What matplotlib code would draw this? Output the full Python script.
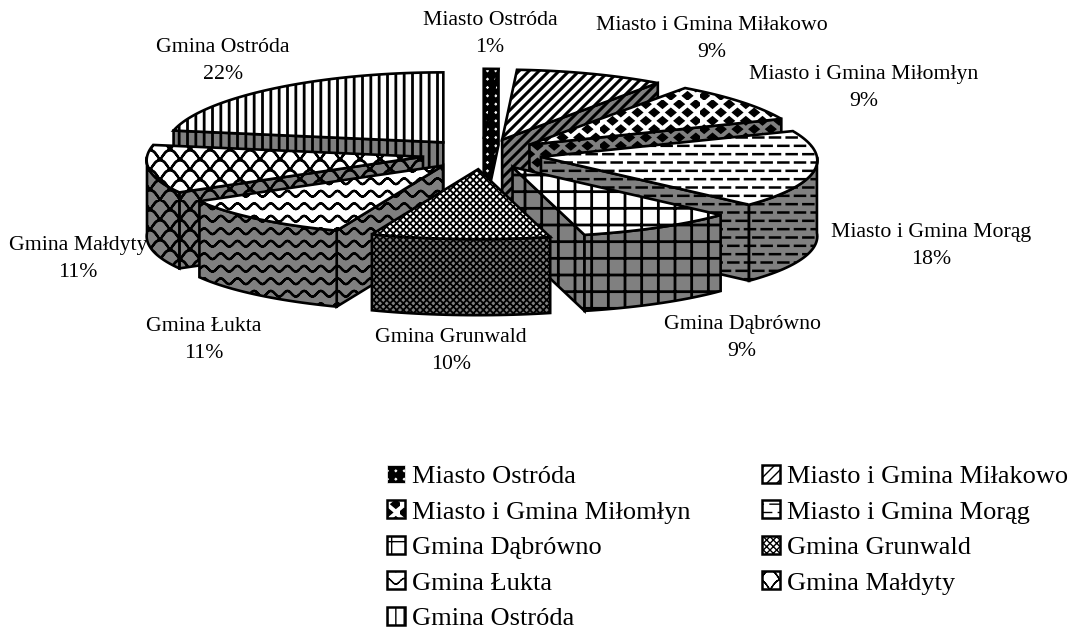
import warnings

import numpy as np
import matplotlib
matplotlib.use("Agg")
import matplotlib.pyplot as plt
import matplotlib.hatch as mhatch
from matplotlib.patches import Polygon, Rectangle
from matplotlib.path import Path

warnings.filterwarnings("ignore")

nazwy = ["Miasto Ostróda", "Miasto i Gmina Miłakowo", "Miasto i Gmina Miłomłyn",
         "Miasto i Gmina Morąg", "Gmina Dąbrówno", "Gmina Grunwald",
         "Gmina Łukta", "Gmina Małdyty", "Gmina Ostróda"]
udzial = [0.9, 9.1, 9, 18, 9, 10, 10.5, 11.2, 22.3]
procenty = ["1%", "9%", "9%", "18%", "9%", "10%", "11%", "11%", "22%"]

# srodki podpisow w pikselach obrazka
etykiety_x = [490, 712, 864, 931, 742, 451, 204, 78, 223]
etykiety_y = [34, 39, 88, 246, 338, 351, 340, 259, 61]

wzory = ["k", "f", "d", "m", "+", "xxxxx", "w", "s", "||"]
grubosc_wzoru = [1.0, 2.2, 1.0, 1.8, 2.0, 1.3, 1.6, 1.6, 2.0]

SRODEK_X, SRODEK_Y = 482, 154
RX, RY = 276, 70
PERSPEKTYWA = 0.05
WYSUNIECIE = 60
WYSOKOSC = 76
SZARY = "#808080"


def segmenty(linie):
    verts = []
    kody = []
    for (x0, y0), (x1, y1) in linie:
        verts += [(x0, y0), (x1, y1)]
        kody += [Path.MOVETO, Path.LINETO]
    return verts, kody


def krzywa(xs, ys):
    return list(zip(zip(xs[:-1], ys[:-1]), zip(xs[1:], ys[1:])))


def wzor_fala():
    linie = []
    xs = np.linspace(0, 1, 73)
    for r in range(8):
        linie += krzywa(xs, (r + 0.5) / 8 + 0.028 * np.sin(2 * np.pi * 6 * xs))
    return segmenty(linie)


def wzor_luski():
    linie = []
    xs = np.linspace(0, 1, 121)
    for r in range(10):
        faza = np.pi / 2 * (r % 2)
        linie += krzywa(xs, r / 10 + np.abs(np.sin(np.pi * 5 * xs + faza)) / 10)
    return segmenty(linie)


def wzor_ukos():
    kroki = np.linspace(-0.5, 0.5, 21)
    return segmenty([((0 + k, 0 - k), (1 + k, 1 - k)) for k in kroki])


def wzor_kreski():
    linie = []
    for r in range(12):
        y = (r + 0.5) / 12
        for c in range(7):
            x = c / 6 + (1 / 12 if r % 2 else 0)
            linie.append(((max(x - 0.05, 0), y), (min(x + 0.05, 1), y)))
    return segmenty([l for l in linie if l[0][0] < 1])


def romby(xy, dx, dy):
    verts = []
    kody = []
    for x, y in xy:
        verts += [(x - dx, y), (x, y + dy), (x + dx, y), (x, y - dy), (x - dx, y)]
        kody += [Path.MOVETO, Path.LINETO, Path.LINETO, Path.LINETO, Path.CLOSEPOLY]
    return verts, kody


def wzor_romby():
    xy = [((c + (0.75 if r % 2 else 0.25)) / 6, (r + 0.5) / 12) for r in range(12) for c in range(6)]
    return romby(xy, 0.05, 0.041)


def wzor_kropki():
    xy = [((c + 0.5) / 12, (r + 0.5) / 12) for r in range(12) for c in range(12)]
    return romby(xy, 0.007, 0.007)


WLASNE = {"w": wzor_fala(), "s": wzor_luski(), "f": wzor_ukos(), "m": wzor_kreski(),
          "d": wzor_romby(), "k": wzor_kropki()}


class WlasnyWzor(mhatch.HatchPatternBase):
    def __init__(self, hatch, density):
        self.verts = []
        self.kody = []
        for znak, (v, k) in WLASNE.items():
            if znak in hatch:
                self.verts += v
                self.kody += k
        self.num_vertices = len(self.verts)

    def set_vertices_and_codes(self, vertices, codes):
        vertices[:] = self.verts
        codes[:] = self.kody


mhatch._hatch_types.append(WlasnyWzor)

plt.rcParams["font.family"] = ["Liberation Serif", "DejaVu Serif"]
plt.rcParams["hatch.linewidth"] = 1.0

fig = plt.figure(figsize=(10.76, 6.29), dpi=100)
ax = fig.add_axes([0, 0, 1, 1])
ax.set_xlim(0, 1076)
ax.set_ylim(629, 0)
ax.axis("off")


def punkt(wierzch, kat):
    return (wierzch[0] + RX * np.sin(kat) * (1 - PERSPEKTYWA * np.cos(kat)), wierzch[1] - RY * np.cos(kat))


def luk(wierzch, k0, k1):
    n = max(int(abs(k1 - k0) * 40), 2)
    return [punkt(wierzch, k) for k in np.linspace(k0, k1, n)]


def nizej(pkty):
    return [(x, y + WYSOKOSC) for x, y in pkty]


def sciana(pkty, wzor, tlo, kolor_wzoru, grubosc):
    # grubosc kreskowania patch bierze z rcParams przy tworzeniu
    with plt.rc_context({"hatch.linewidth": grubosc}):
        p = Polygon(pkty, closed=True, facecolor=tlo, edgecolor=kolor_wzoru, hatch=wzor, linewidth=0)
    if hasattr(p, "set_hatch_linewidth"):
        p.set_hatch_linewidth(grubosc)
    ax.add_patch(p)
    ax.add_patch(Polygon(pkty, closed=True, fill=False, edgecolor="black", linewidth=1.9, joinstyle="miter"))


katy = 2 * np.pi * np.cumsum([0] + udzial) / sum(udzial)
srodki = (katy[:-1] + katy[1:]) / 2

# od tylu do przodu, zeby blizsze wycinki zaslanialy dalsze
for i in np.argsort(-np.cos(srodki)):
    k0, k1 = katy[i], katy[i + 1]
    w = (SRODEK_X + WYSUNIECIE * np.sin(srodki[i]), SRODEK_Y - WYSUNIECIE * RY / RX * np.cos(srodki[i]))
    czarny = i == 0
    kolor_wzoru = "white" if czarny else "black"
    bok = "black" if czarny else SZARY
    gora = "black" if czarny else "white"
    arg = (wzory[i], bok, kolor_wzoru, grubosc_wzoru[i])

    # sciany promieniowe widoczne tylko gdy sa zwrocone do patrzacego
    if np.sin(k1) > 0:
        r = [w, punkt(w, k1)]
        sciana(r + nizej(r)[::-1], *arg)
    if np.sin(k0) < 0:
        r = [w, punkt(w, k0)]
        sciana(r + nizej(r)[::-1], *arg)

    # sciana zewnetrzna tylko w przedniej polowie
    a, b = max(k0, np.pi / 2), min(k1, 3 * np.pi / 2)
    if a < b:
        l = luk(w, a, b)
        sciana(l + nizej(l)[::-1], *arg)

    sciana([w] + luk(w, k0, k1), wzory[i], gora, kolor_wzoru, grubosc_wzoru[i])

for i in range(len(nazwy)):
    ax.text(etykiety_x[i], etykiety_y[i], nazwy[i] + "\n" + procenty[i], ha="center", va="center",
            fontsize=15.7, linespacing=1.6, color="black")

uchwyty = []
for i in range(len(nazwy)):
    if i == 0:
        uchwyty.append(Rectangle((0, 0), 1, 1, facecolor="black", edgecolor="white", hatch="k", linewidth=0.5))
    else:
        uchwyty.append(Rectangle((0, 0), 1, 1, facecolor="white", edgecolor="black", hatch=wzory[i], linewidth=1.8))

# legenda wypelnia kolumnami, a w oryginale idzie wierszami
kolej = [0, 2, 4, 6, 8, 1, 3, 5, 7]
ax.legend([uchwyty[i] for i in kolej], [nazwy[i] for i in kolej], ncol=2, frameon=False,
          loc="upper left", bbox_to_anchor=(379, 457), bbox_transform=ax.transData,
          fontsize=19, handlelength=0.68, handleheight=0.68, handletextpad=0.27,
          labelspacing=0.46, columnspacing=2.7, borderpad=0.3, borderaxespad=0)

fig.savefig("out.png", dpi=100)
